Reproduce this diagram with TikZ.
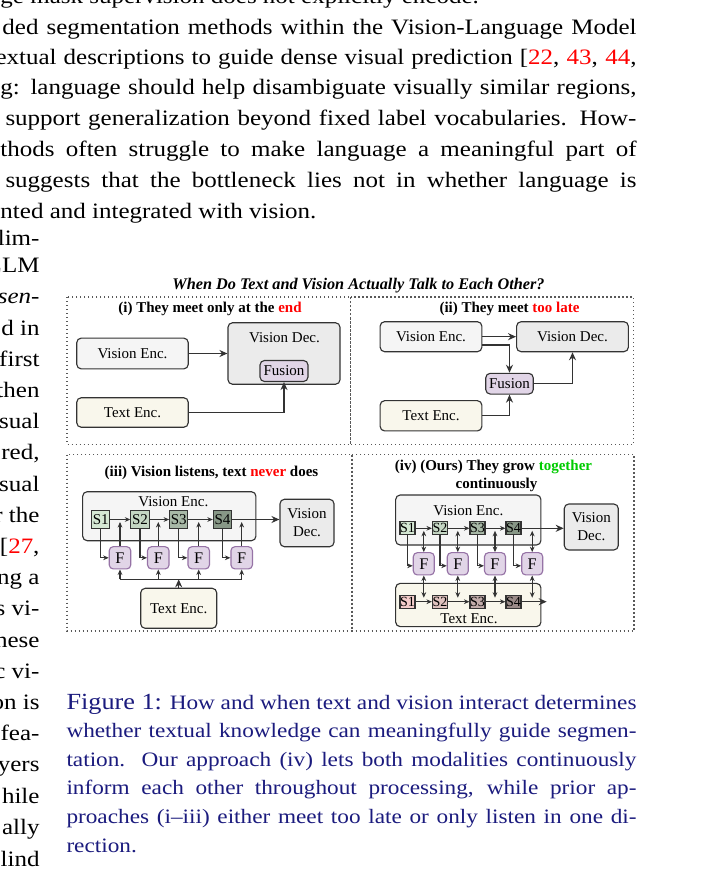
\documentclass[tikz,border=0pt]{standalone}
\usepackage{fontspec}
\setmainfont{Liberation Serif}
\usetikzlibrary{arrows.meta,calc}
\definecolor{vencfill}{HTML}{F5F5F5}
\definecolor{tencfill}{HTML}{F9F7EC}
\definecolor{vdecfill}{HTML}{EBEBEB}
\definecolor{fusfill}{HTML}{E1D5E7}
\definecolor{fborder}{HTML}{9673A6}
\definecolor{vsA}{HTML}{D5E8D4}
\definecolor{vsB}{HTML}{C4D6C3}
\definecolor{vsC}{HTML}{A7B8A6}
\definecolor{vsD}{HTML}{879786}
\definecolor{tsA}{HTML}{F4CCCA}
\definecolor{tsB}{HTML}{DFC1BE}
\definecolor{tsC}{HTML}{C2ACAA}
\definecolor{tsD}{HTML}{9A8A88}
\definecolor{capblue}{HTML}{1B1B7E}
\definecolor{citered}{HTML}{FF0000}
\definecolor{okgreen}{HTML}{00CC00}
\definecolor{linegray}{HTML}{333333}
\newcommand{\vsq}[1]{\scalebox{1}[0.88]{#1}}
\tikzset{
  body/.style={anchor=base west, inner sep=0pt, font=\fontsize{10}{12}\selectfont},
  lcol/.style={anchor=base east, inner sep=0pt, font=\fontsize{10}{12}\selectfont},
  capt/.style={anchor=base west, inner sep=0pt, text=capblue, font=\fontsize{9.3}{11}\selectfont},
  panel/.style={draw=black!65, line width=0.45pt, dash pattern=on 0.45pt off 1.15pt},
  ttl/.style={anchor=base, inner sep=0pt, font=\fontsize{6}{7}\selectfont\bfseries},
  lbl/.style={inner sep=0pt, font=\fontsize{6}{7}\selectfont},
  rbox/.style={draw=linegray, line width=0.45pt, rounded corners=1.8pt, inner sep=0pt, font=\fontsize{6}{7.2}\selectfont, align=center},
  venc/.style={rbox, fill=vencfill},
  tenc/.style={rbox, fill=tencfill},
  vdec/.style={rbox, fill=vdecfill},
  fus/.style={rbox, fill=fusfill},
  fbox/.style={draw=fborder, fill=fusfill, line width=0.45pt, rounded corners=1.6pt, inner sep=0pt, font=\fontsize{6.5}{7}\selectfont},
  sbox/.style={draw=linegray, line width=0.45pt, inner sep=0pt, minimum width=7.3pt, minimum height=7.5pt, font=\fontsize{6}{7}\selectfont},
  sboxs/.style={draw=linegray, line width=0.45pt, inner sep=0pt, minimum width=6pt, minimum height=5.3pt, font=\fontsize{5.6}{6}\selectfont},
  arr/.style={-{Stealth[length=3.2pt,width=2.8pt]}, line width=0.5pt, draw=linegray},
  sarr/.style={-{Stealth[length=2.2pt,width=1.9pt]}, line width=0.45pt, draw=linegray},
  darr/.style={{Stealth[length=2.2pt,width=1.9pt]}-{Stealth[length=2.2pt,width=1.9pt]}, line width=0.45pt, draw=linegray}
}
\begin{document}
\begin{tikzpicture}[x=0.4pt,y=-0.4pt]
\useasboundingbox (0,0) rectangle (702,872);
\clip (0,0) rectangle (702,872);
\fill[white] (0,0) rectangle (702,872);

% ---------- body text, top ----------
\node[body] (b1) at (0,4) {\vsq{ge mask supervision does not explicitly encode.}};
\node[body] (b2) at (2,35) {\vsq{\makebox[253.6pt][s]{ded segmentation methods within the Vision-Language Model}}};
\node[body] (b3) at (-5,65) {\vsq{\makebox[256.4pt][s]{extual descriptions to guide dense visual prediction [\textcolor{citered}{22}, \textcolor{citered}{43}, \textcolor{citered}{44},}}};
\node[body] (b4) at (0,95) {\vsq{\makebox[254.4pt][s]{g: language should help disambiguate visually similar regions,}}};
\node[body] (b5) at (5,126) {\vsq{\makebox[252.4pt][s]{support generalization beyond fixed label vocabularies. How-}}};
\node[body] (b6) at (0,157) {\vsq{\makebox[254.4pt][s]{thods often struggle to make language a meaningful part of}}};
\node[body] (b7) at (5,188) {\vsq{\makebox[252.4pt][s]{suggests that the bottleneck lies not in whether language is}}};
\node[body] (b8) at (0,219) {\vsq{nted and integrated with vision.}};

% ---------- left column ----------
\node[lcol] (l0) at (40,246) {\vsq{lim-}};
\node[lcol] (l1) at (40,272.5) {\vsq{LLM}};
\node[lcol] (l2) at (40,303.5) {\vsq{\textit{sen}-}};
\node[lcol] (l3) at (40,335) {\vsq{d in}};
\node[lcol] (l4) at (40,366.2) {\vsq{first}};
\node[lcol] (l5) at (40,397.4) {\vsq{then}};
\node[lcol] (l6) at (40,428.6) {\vsq{sual}};
\node[lcol] (l7) at (40,459.8) {\vsq{red,}};
\node[lcol] (l8) at (40,491) {\vsq{sual}};
\node[lcol] (l9) at (40,522.2) {\vsq{r the}};
\node[lcol] (l10) at (40,553.4) {\vsq{[\textcolor{citered}{27},}};
\node[lcol] (l11) at (40,584.6) {\vsq{ng a}};
\node[lcol] (l12) at (40,615.8) {\vsq{s vi-}};
\node[lcol] (l13) at (40,647) {\vsq{hese}};
\node[lcol] (l14) at (40,678.2) {\vsq{c vi-}};
\node[lcol] (l15) at (40,709.4) {\vsq{on is}};
\node[lcol] (l16) at (40,740.6) {\vsq{fea-}};
\node[lcol] (l17) at (40,771.8) {\vsq{yers}};
\node[lcol] (l18) at (40,803) {\vsq{hile}};
\node[lcol] (l19) at (40,834.2) {\vsq{ally}};
\node[lcol] (l20) at (40,866.5) {\vsq{lind}};

% ---------- figure title and panels ----------
\node[anchor=base, inner sep=0pt, font=\fontsize{6.5}{7}\selectfont\bfseries\itshape] (ftitle) at (358.4,289) {When Do Text and Vision Actually Talk to Each Other?};
\draw[panel] (67,297) rectangle (350.5,444.5);
\draw[panel] (350.5,297) rectangle (633.5,444.5);
\draw[panel] (67,454.5) rectangle (352,631);
\draw[panel] (352,454.5) rectangle (634,631);

% ---------- (i) ----------
\node[ttl] (t1) at (210,312.5) {(i) They meet only at the \textcolor{citered}{end}};
\node[venc, minimum width=44.6pt, minimum height=12.3pt] (ve1) at (132.5,353.5) {Vision Enc.};
\node[tenc, minimum width=44.6pt, minimum height=11.8pt] (te1) at (132.5,412.5) {Text Enc.};
\node[vdec, minimum width=44.8pt, minimum height=24.6pt] (vd1) at (284,353.5) {};
\node[lbl] (vd1l) at (284.5,338) {Vision Dec.};
\node[fus, minimum width=19.2pt, minimum height=8.4pt] (fu1) at (284,371) {Fusion};
\draw[arr] (ve1.east) -- (vd1.west);
\draw[arr] (te1.east) -| (fu1.south);

% ---------- (ii) ----------
\node[ttl] (t2) at (509.5,312.7) {(ii) They meet \textcolor{citered}{too late}};
\node[venc, minimum width=40.7pt, minimum height=12pt] (ve2) at (431,336.7) {Vision Enc.};
\node[vdec, minimum width=44.7pt, minimum height=12pt] (vd2) at (572.5,336.7) {Vision Dec.};
\node[fus, minimum width=19pt, minimum height=8.3pt] (fu2) at (509.5,383.7) {Fusion};
\node[tenc, minimum width=40.7pt, minimum height=12.1pt] (te2) at (431,415.8) {Text Enc.};
\draw[arr] (ve2.east) -- (vd2.west);
\draw[arr] ([yshift=-3.3pt]ve2.east) -| (fu2.north);
\draw[arr] (te2.east) -| (fu2.south);
\draw[arr] (fu2.east) -| (vd2.south);

% ---------- (iii) ----------
\node[ttl] (t3) at (211.5,476.7) {(iii) Vision listens, text \textcolor{citered}{never} does};
\node[venc, minimum width=69.3pt, minimum height=19.6pt] (ve3) at (169.3,516.2) {};
\node[lbl] (ve3l) at (173.3,502) {Vision Enc.};
\node[vdec, minimum width=21.6pt, minimum height=19pt] (vd3) at (307,523) {Vision\\Dec.};
\node[sbox, fill=vsA] (s31) at (100.8,519.5) {S1};
\node[sbox, fill=vsB] (s32) at (140,519.5) {S2};
\node[sbox, fill=vsC] (s33) at (178.8,519.5) {S3};
\node[sbox, fill=vsD] (s34) at (222.5,519.5) {S4};
\node[fbox, minimum width=8.6pt, minimum height=8.9pt] (f31) at (120,557.8) {F};
\node[fbox, minimum width=8.6pt, minimum height=8.9pt] (f32) at (158.3,557.8) {F};
\node[fbox, minimum width=8.6pt, minimum height=8.9pt] (f33) at (198.7,557.8) {F};
\node[fbox, minimum width=8.6pt, minimum height=8.9pt] (f34) at (241.7,557.8) {F};
\node[tenc, minimum width=30.4pt, minimum height=16pt] (te3) at (178.7,608.3) {Text Enc.};
\coordinate (bus3) at (178.7,579.3);
\draw[sarr] (s31.east) -- (s32.west);
\draw[sarr] (s32.east) -- (s33.west);
\draw[sarr] (s33.east) -- (s34.west);
\draw[arr] (s34.east) -- (s34.east -| vd3.west);
\foreach \i in {1,2,3,4}{
  \draw[sarr] (s3\i.south) |- (f3\i.west);
  \draw[sarr] (f3\i.north) -- ([yshift=-1pt]f3\i.north |- s3\i.east);
  \draw[sarr] (f3\i.south |- bus3) -- (f3\i.south);
}
\draw[line width=0.45pt, draw=linegray] (f31.south |- bus3) -- (f34.south |- bus3);
\draw[arr] (te3.north) -- (bus3);

% ---------- (iv) ----------
\node[ttl] (t4a) at (493.5,470.7) {(iv) (Ours) They grow \textcolor{okgreen}{together}};
\node[ttl] (t4b) at (496.5,488) {continuously};
\node[venc, minimum width=58.1pt, minimum height=20pt] (ve4) at (468.3,520) {};
\node[lbl] (ve4l) at (468.3,511) {Vision Enc.};
\node[vdec, minimum width=21.6pt, minimum height=18.4pt] (vd4) at (591.3,527) {Vision\\Dec.};
\node[tenc, minimum width=58.1pt, minimum height=17.3pt] (te4) at (468.3,605) {};
\node[lbl] (te4l) at (469,619) {Text Enc.};
\node[sboxs, fill=vsA] (v41) at (407.5,528.3) {S1};
\node[sboxs, fill=vsB] (v42) at (440,528.3) {S2};
\node[sboxs, fill=vsC] (v43) at (477.5,528.3) {S3};
\node[sboxs, fill=vsD] (v44) at (513.5,528.3) {S4};
\node[sboxs, fill=tsA] (w41) at (407.5,601.7) {S1};
\node[sboxs, fill=tsB] (w42) at (440,601.7) {S2};
\node[sboxs, fill=tsC] (w43) at (477.5,601.7) {S3};
\node[sboxs, fill=tsD] (w44) at (513.5,601.7) {S4};
\node[fbox, minimum width=8.4pt, minimum height=8.9pt] (f41) at (423.8,563.8) {F};
\node[fbox, minimum width=8.4pt, minimum height=8.9pt] (f42) at (457.8,563.8) {F};
\node[fbox, minimum width=8.4pt, minimum height=8.9pt] (f43) at (495,563.8) {F};
\node[fbox, minimum width=8.4pt, minimum height=8.9pt] (f44) at (532.2,563.8) {F};
\coordinate (tout4) at (546.7,601.7);
\draw[sarr] (v41.east) -- (v42.west);
\draw[sarr] (v42.east) -- (v43.west);
\draw[sarr] (v43.east) -- (v44.west);
\draw[arr] (v44.east) -- (v44.east -| vd4.west);
\draw[sarr] (w41.east) -- (w42.west);
\draw[sarr] (w42.east) -- (w43.west);
\draw[sarr] (w43.east) -- (w44.west);
\draw[arr] (w44.east) -- (tout4);
\foreach \i in {1,2,3,4}{
  \draw[sarr] (v4\i.south) |- ([yshift=-0.8pt]f4\i.west);
  \draw[darr] ([yshift=-1pt]f4\i.north |- v4\i.east) -- (f4\i.north);
  \draw[darr] (f4\i.south) -- ([yshift=1.6pt]f4\i.south |- w4\i.east);
}

% ---------- caption ----------
\node[capt] (c1) at (66,709) {\vsq{\makebox[228pt][s]{{\fontsize{10.5}{12}\selectfont Figure 1:} How and when text and vision interact determines}}};
\node[capt] (c2) at (66,737.6) {\vsq{\makebox[228pt][s]{whether textual knowledge can meaningfully guide segmen-}}};
\node[capt] (c3) at (66,766.2) {\vsq{\makebox[228pt][s]{tation.\ \ Our approach (iv) lets both modalities continuously}}};
\node[capt] (c4) at (66,794.8) {\vsq{\makebox[228pt][s]{inform each other throughout processing, while prior ap-}}};
\node[capt] (c5) at (66,823.4) {\vsq{\makebox[228pt][s]{proaches (i--iii) either meet too late or only listen in one di-}}};
\node[capt] (c6) at (66,852) {\vsq{rection.}};
\end{tikzpicture}
\end{document}
